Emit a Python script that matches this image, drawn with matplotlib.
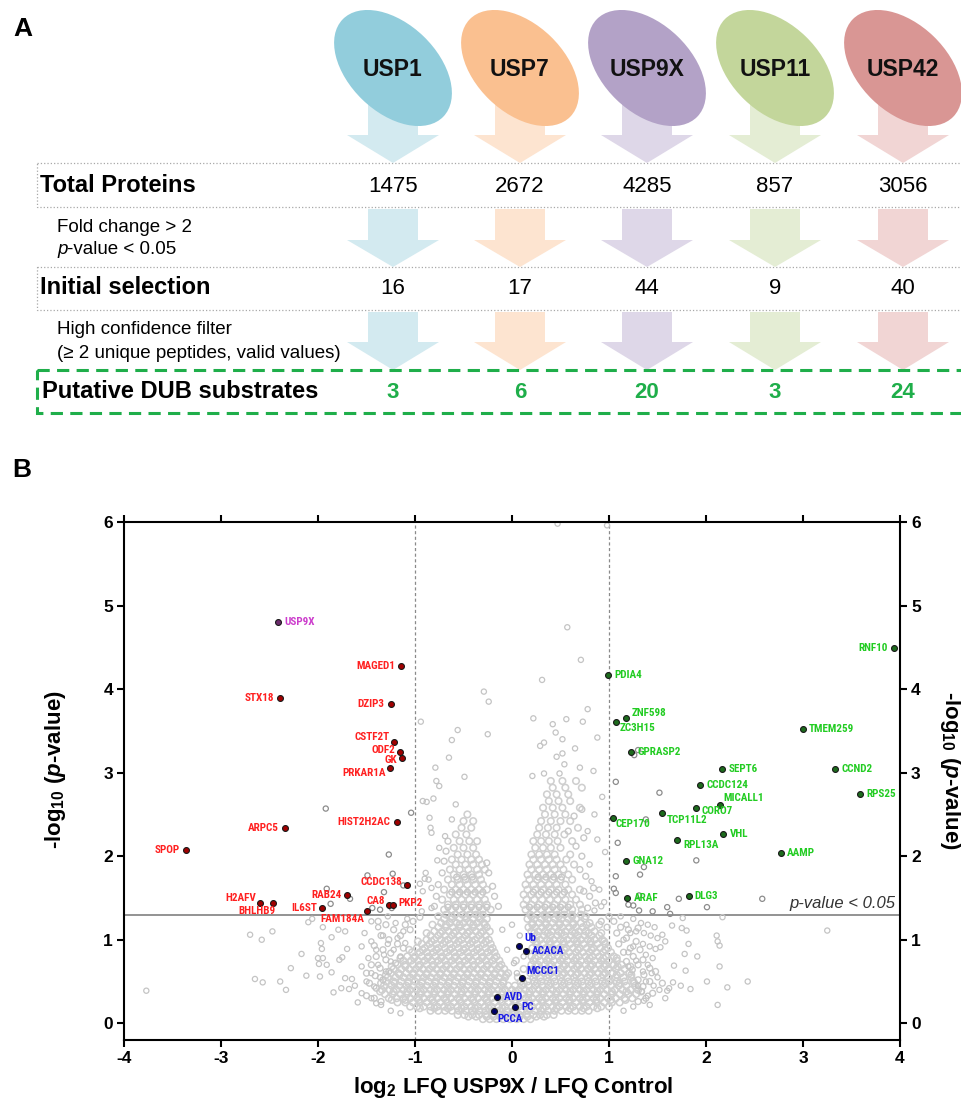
import math
import matplotlib
matplotlib.use('Agg')
import matplotlib.pyplot as plt
from matplotlib.patches import Ellipse, Polygon, Rectangle
from matplotlib import font_manager

plt.rcParams['font.family'] = ['Liberation Sans', 'DejaVu Sans']
plt.rcParams['axes.unicode_minus'] = False
plt.rcParams['mathtext.fontset'] = 'custom'
plt.rcParams['mathtext.rm'] = 'Liberation Sans:bold'
plt.rcParams['mathtext.it'] = 'Liberation Sans:italic:bold'
plt.rcParams['mathtext.bf'] = 'Liberation Sans:bold'

_names = {f.name for f in font_manager.fontManager.ttflist}
LABEL_FAMILY, LABEL_SIZE, LABEL_STRETCH = 'Liberation Sans', 7.2, 'normal'
for _cand, _size in [('Liberation Sans Narrow', 8), ('Arial Narrow', 8), ('Nimbus Sans Narrow', 8),
                     ('Roboto Condensed', 8), ('Open Sans Condensed', 7.6)]:
    if _cand in _names:
        LABEL_FAMILY, LABEL_SIZE = _cand, _size
        break
else:
    if any(f.name == 'DejaVu Sans' and 'ondensed' in f.fname for f in font_manager.fontManager.ttflist):
        LABEL_FAMILY, LABEL_SIZE, LABEL_STRETCH = 'DejaVu Sans', 7.3, 'condensed'

# ---------------- Panel A data ----------------
dubs = ['USP1', 'USP7', 'USP9X', 'USP11', 'USP42']
total_proteins = [1475, 2672, 4285, 857, 3056]
initial_selection = [16, 17, 44, 9, 40]
putative_substrates = [3, 6, 20, 3, 24]
dub_colors = ['#92cddc', '#fac090', '#b3a2c7', '#c3d69b', '#d99694']
arrow_colors = ['#d3eaf0', '#fde4d0', '#ded7e8', '#e4edd4', '#f1d5d4']
row_titles = ['Total Proteins', 'Initial selection', 'Putative DUB substrates']

# ---------------- Panel B data ----------------
red_genes = ['MAGED1', 'STX18', 'DZIP3', 'CSTF2T', 'ODF2', 'GK', 'PRKAR1A', 'HIST2H2AC',
             'ARPC5', 'SPOP', 'CCDC138', 'RAB24', 'H2AFV', 'BHLHB9', 'IL6ST', 'CA8', 'PKP2', 'FAM184A']
red_x = [-1.14, -2.39, -1.25, -1.22, -1.15, -1.13, -1.26, -1.19,
         -2.34, -3.36, -1.08, -1.70, -2.60, -2.46, -1.96, -1.27, -1.23, -1.49]
red_y = [4.28, 3.89, 3.82, 3.37, 3.25, 3.18, 3.06, 2.41,
         2.34, 2.08, 1.65, 1.54, 1.44, 1.44, 1.38, 1.41, 1.41, 1.35]

green_genes = ['RNF10', 'PDIA4', 'ZNF598', 'ZC3H15', 'TMEM259', 'GPRASP2', 'SEPT6', 'CCND2',
               'CCDC124', 'RPS25', 'MICALL1', 'CORO7', 'TCP11L2', 'CEP170', 'VHL', 'RPL13A',
               'AAMP', 'GNA12', 'ARAF', 'DLG3']
green_x = [3.94, 0.99, 1.18, 1.07, 3.00, 1.23, 2.17, 3.33,
           1.94, 3.59, 2.14, 1.90, 1.55, 1.04, 2.18, 1.70,
           2.77, 1.18, 1.19, 1.82]
green_y = [4.49, 4.17, 3.65, 3.61, 3.52, 3.25, 3.04, 3.04,
           2.85, 2.74, 2.61, 2.58, 2.52, 2.46, 2.26, 2.19,
           2.04, 1.94, 1.50, 1.52]

blue_genes = ['Ub', 'ACACA', 'MCCC1', 'AVD', 'PC', 'PCCA']
blue_x = [0.07, 0.14, 0.10, -0.15, 0.03, -0.19]
blue_y = [0.92, 0.86, 0.54, 0.32, 0.19, 0.15]

bait_gene = ['USP9X']
bait_x = [-2.41]
bait_y = [4.80]

# dense core of non-significant proteins (rows of constant -log10 p)
bg_core_y = [0.05, 0.10, 0.15, 0.20, 0.25, 0.30, 0.35, 0.40, 0.45, 0.50, 0.55, 0.60, 0.65,
             0.70, 0.75, 0.80, 0.85, 0.90, 0.95, 1.00, 1.05, 1.10, 1.15, 1.20, 1.25, 1.30]
bg_core_x = [
    [-0.30, -0.23, -0.16, -0.09, -0.02, 0.05, 0.12, 0.19],
    [-0.56, -0.49, -0.41, -0.34, -0.27, -0.20, -0.13, -0.06, 0.01, 0.08, 0.15, 0.22, 0.29, 0.36, 0.43],
    [-0.84, -0.76, -0.69, -0.62, -0.55, -0.48, -0.41, -0.34, -0.27, -0.20, -0.13, -0.06, 0.02, 0.09,
     0.16, 0.23, 0.30, 0.37, 0.44, 0.51, 0.58, 0.65, 0.72, 0.79],
    [-1.05, -0.98, -0.91, -0.84, -0.77, -0.70, -0.63, -0.56, -0.49, -0.42, -0.35, -0.28, -0.21, -0.14,
     -0.07, 0.00, 0.07, 0.14, 0.21, 0.28, 0.35, 0.42, 0.49, 0.56, 0.63, 0.70, 0.77, 0.84, 0.92, 1.00],
    [-1.18, -1.10, -1.02, -0.95, -0.88, -0.81, -0.74, -0.67, -0.60, -0.53, -0.46, -0.39, -0.32, -0.25,
     -0.18, -0.11, -0.04, 0.03, 0.10, 0.17, 0.24, 0.31, 0.38, 0.45, 0.52, 0.59, 0.66, 0.73, 0.80, 0.87,
     0.95, 1.03, 1.11],
    [-1.27, -1.19, -1.12, -1.05, -0.98, -0.91, -0.84, -0.77, -0.70, -0.63, -0.56, -0.49, -0.42, -0.35,
     -0.28, -0.21, -0.14, -0.07, 0.00, 0.07, 0.14, 0.21, 0.28, 0.35, 0.42, 0.49, 0.56, 0.63, 0.70, 0.77,
     0.84, 0.91, 0.99, 1.07, 1.16, 1.24],
    [-1.31, -1.23, -1.15, -1.08, -1.01, -0.94, -0.87, -0.80, -0.73, -0.66, -0.59, -0.52, -0.45, -0.38,
     -0.31, -0.24, -0.17, -0.10, -0.03, 0.04, 0.11, 0.18, 0.25, 0.32, 0.39, 0.46, 0.53, 0.60, 0.67, 0.74,
     0.81, 0.88, 0.95, 1.03, 1.11, 1.20, 1.28],
    [-1.34, -1.26, -1.19, -1.12, -1.05, -0.98, -0.91, -0.84, -0.77, -0.70, -0.63, -0.56, -0.49, -0.42,
     -0.35, -0.28, -0.21, -0.14, -0.07, 0.00, 0.07, 0.14, 0.21, 0.28, 0.35, 0.42, 0.49, 0.56, 0.63, 0.70,
     0.77, 0.84, 0.91, 0.98, 1.06, 1.14, 1.22, 1.30],
    [-1.32, -1.24, -1.16, -1.09, -1.02, -0.95, -0.88, -0.81, -0.74, -0.67, -0.60, -0.53, -0.46, -0.39,
     -0.32, -0.25, -0.18, -0.11, -0.04, 0.03, 0.10, 0.17, 0.24, 0.31, 0.38, 0.45, 0.52, 0.59, 0.66, 0.73,
     0.80, 0.87, 0.94, 1.02, 1.10, 1.18, 1.27],
    [-1.30, -1.22, -1.14, -1.07, -1.00, -0.93, -0.86, -0.79, -0.72, -0.65, -0.58, -0.51, -0.44, -0.37,
     -0.30, -0.23, -0.16, -0.09, 0.09, 0.16, 0.23, 0.30, 0.37, 0.44, 0.51, 0.58, 0.65, 0.72, 0.79, 0.86,
     0.93, 1.00, 1.08, 1.16, 1.25],
    [-1.28, -1.20, -1.12, -1.05, -0.98, -0.91, -0.84, -0.77, -0.70, -0.63, -0.56, -0.49, -0.42, -0.35,
     -0.28, -0.21, -0.14, -0.07, 0.06, 0.22, 0.29, 0.36, 0.43, 0.50, 0.57, 0.64, 0.71, 0.78, 0.85, 0.92,
     0.99, 1.07, 1.15, 1.23],
    [-1.25, -1.17, -1.09, -1.02, -0.95, -0.88, -0.81, -0.74, -0.67, -0.60, -0.53, -0.46, -0.39, -0.32,
     -0.25, -0.18, -0.11, -0.04, 0.19, 0.26, 0.33, 0.40, 0.47, 0.54, 0.61, 0.68, 0.75, 0.82, 0.89, 0.96,
     1.04, 1.12, 1.21],
    [-1.22, -1.14, -1.06, -0.99, -0.92, -0.85, -0.78, -0.71, -0.64, -0.57, -0.50, -0.43, -0.36, -0.29,
     -0.22, -0.15, -0.08, 0.12, 0.22, 0.29, 0.36, 0.43, 0.50, 0.57, 0.64, 0.71, 0.78, 0.85, 0.92, 0.99,
     1.07, 1.16],
    [-1.18, -1.10, -1.02, -0.95, -0.88, -0.81, -0.74, -0.67, -0.60, -0.53, -0.46, -0.39, -0.32, -0.25,
     -0.18, -0.11, 0.20, 0.27, 0.34, 0.41, 0.48, 0.55, 0.62, 0.69, 0.76, 0.83, 0.90, 0.97, 1.05, 1.13],
    [-1.12, -1.04, -0.97, -0.90, -0.83, -0.76, -0.69, -0.62, -0.55, -0.48, -0.41, -0.34, -0.27, -0.20,
     -0.13, 0.04, 0.22, 0.29, 0.36, 0.43, 0.50, 0.57, 0.64, 0.71, 0.78, 0.85, 0.92, 1.00, 1.08],
    [-1.08, -1.00, -0.93, -0.86, -0.79, -0.72, -0.65, -0.58, -0.51, -0.44, -0.37, -0.30, -0.23, -0.16,
     0.20, 0.27, 0.34, 0.41, 0.48, 0.55, 0.62, 0.69, 0.76, 0.83, 0.90, 0.97, 1.05],
    [-1.03, -0.95, -0.88, -0.81, -0.74, -0.67, -0.60, -0.53, -0.46, -0.39, -0.32, -0.25, -0.18, 0.24,
     0.31, 0.38, 0.45, 0.52, 0.59, 0.66, 0.73, 0.80, 0.87, 0.94, 1.02],
    [-0.98, -0.90, -0.83, -0.76, -0.69, -0.62, -0.55, -0.48, -0.41, -0.34, -0.27, -0.20, 0.21, 0.28,
     0.35, 0.42, 0.49, 0.56, 0.63, 0.70, 0.77, 0.84, 0.91, 0.99],
    [-0.93, -0.85, -0.78, -0.71, -0.64, -0.57, -0.50, -0.43, -0.36, -0.29, -0.22, 0.25, 0.32, 0.39,
     0.46, 0.53, 0.60, 0.67, 0.74, 0.81, 0.88, 0.96],
    [-0.88, -0.80, -0.73, -0.66, -0.59, -0.52, -0.45, -0.38, -0.31, -0.24, 0.22, 0.29, 0.36, 0.43,
     0.50, 0.57, 0.64, 0.71, 0.78, 0.85, 0.93],
    [-0.84, -0.76, -0.69, -0.62, -0.55, -0.48, -0.41, -0.34, -0.27, 0.26, 0.33, 0.40, 0.47, 0.54,
     0.61, 0.68, 0.75, 0.82, 0.90],
    [-0.80, -0.72, -0.65, -0.58, -0.51, -0.44, -0.37, -0.30, -0.23, 0.20, 0.27, 0.34, 0.41, 0.48,
     0.55, 0.62, 0.69, 0.76, 0.85],
    [-0.76, -0.68, -0.61, -0.54, -0.47, -0.40, -0.33, -0.26, 0.17, 0.24, 0.31, 0.38, 0.45, 0.52,
     0.59, 0.66, 0.73, 0.82],
    [-0.73, -0.64, -0.57, -0.50, -0.43, -0.36, -0.29, 0.21, 0.28, 0.35, 0.42, 0.49, 0.56, 0.63, 0.71, 0.80],
    [-0.70, -0.62, -0.54, -0.47, -0.40, -0.33, -0.26, 0.16, 0.23, 0.30, 0.37, 0.44, 0.51, 0.58, 0.66, 0.75],
    [-0.68, -0.59, -0.51, -0.44, -0.37, -0.30, 0.19, 0.26, 0.33, 0.40, 0.47, 0.54, 0.62, 0.71],
]

# interleaved core rows (between the rows above)
bg_core2_y = [0.08, 0.18, 0.28, 0.38, 0.48, 0.58, 0.68, 0.78, 0.88, 0.98, 1.08, 1.18, 1.28]
bg_core2_x = [
    [-0.45, -0.37, -0.26, -0.19, -0.12, -0.05, 0.08, 0.16, 0.25, 0.33],
    [-0.95, -0.80, -0.66, -0.52, -0.38, -0.24, -0.10, 0.04, 0.18, 0.32, 0.46, 0.60, 0.74, 0.88],
    [-1.24, -1.10, -0.96, -0.82, -0.68, -0.54, -0.40, -0.26, -0.12, 0.03, 0.17, 0.31, 0.45, 0.59,
     0.73, 0.87, 1.02, 1.17],
    [-1.36, -1.22, -1.08, -0.94, -0.80, -0.66, -0.52, -0.38, -0.24, -0.10, 0.04, 0.18, 0.32, 0.46,
     0.60, 0.74, 0.88, 1.03, 1.18, 1.33],
    [-1.35, -1.21, -1.07, -0.93, -0.79, -0.65, -0.51, -0.37, -0.23, -0.09, 0.12, 0.26, 0.40, 0.54,
     0.68, 0.82, 0.96, 1.11, 1.26],
    [-1.30, -1.16, -1.02, -0.88, -0.74, -0.60, -0.46, -0.32, -0.18, -0.06, 0.24, 0.38, 0.52, 0.66,
     0.80, 0.94, 1.08, 1.23],
    [-1.24, -1.10, -0.96, -0.82, -0.68, -0.54, -0.40, -0.26, -0.13, 0.25, 0.39, 0.53, 0.67, 0.81,
     0.95, 1.09, 1.22],
    [-1.15, -1.01, -0.87, -0.73, -0.59, -0.45, -0.31, -0.18, 0.24, 0.38, 0.52, 0.66, 0.80, 0.94, 1.08],
    [-1.06, -0.92, -0.78, -0.64, -0.50, -0.36, -0.22, 0.26, 0.40, 0.54, 0.68, 0.82, 0.96],
    [-0.97, -0.83, -0.69, -0.55, -0.41, -0.27, 0.25, 0.39, 0.53, 0.67, 0.81, 0.95],
    [-0.88, -0.74, -0.60, -0.46, -0.32, 0.23, 0.37, 0.51, 0.65, 0.79, 0.92],
    [-0.82, -0.68, -0.54, -0.40, -0.28, 0.21, 0.35, 0.49, 0.63, 0.77, 0.90],
    [-0.76, -0.62, -0.48, -0.34, 0.20, 0.34, 0.48, 0.62, 0.76],
]

# arms of the volcano (above the core)
arm_y = [1.36, 1.42, 1.48, 1.54, 1.60, 1.66, 1.72, 1.78, 1.84, 1.90, 1.96, 2.02, 2.10, 2.18,
         2.26, 2.34, 2.42, 2.50, 2.58, 2.66, 2.74, 2.82, 2.90]
arm_x = [
    [-0.70, -0.62, -0.54, -0.46, -0.38, -0.30, -0.22, 0.14, 0.22, 0.30, 0.38, 0.46, 0.54, 0.62, 0.72],
    [-0.66, -0.58, -0.50, -0.42, -0.34, -0.26, 0.12, 0.20, 0.28, 0.36, 0.44, 0.52, 0.60, 0.70],
    [-0.72, -0.60, -0.52, -0.44, -0.36, -0.28, 0.15, 0.23, 0.31, 0.39, 0.47, 0.55, 0.66],
    [-0.64, -0.56, -0.48, -0.40, -0.32, 0.12, 0.20, 0.28, 0.36, 0.44, 0.52, 0.62],
    [-0.70, -0.58, -0.50, -0.42, -0.34, -0.26, 0.16, 0.24, 0.32, 0.40, 0.48, 0.58, 0.70],
    [-0.62, -0.54, -0.46, -0.38, -0.30, 0.14, 0.22, 0.30, 0.38, 0.46, 0.55],
    [-0.66, -0.56, -0.48, -0.40, -0.32, 0.18, 0.26, 0.34, 0.42, 0.50, 0.62],
    [-0.60, -0.50, -0.42, -0.34, 0.16, 0.24, 0.32, 0.40, 0.48, 0.58],
    [-0.64, -0.54, -0.45, -0.36, -0.28, 0.20, 0.28, 0.36, 0.44, 0.53],
    [-0.58, -0.48, -0.40, -0.31, 0.18, 0.26, 0.34, 0.42, 0.50, 0.64],
    [-0.62, -0.52, -0.42, -0.34, 0.22, 0.30, 0.38, 0.46, 0.56],
    [-0.56, -0.46, -0.37, 0.20, 0.28, 0.36, 0.44, 0.60],
    [-0.60, -0.50, -0.40, 0.24, 0.32, 0.40, 0.50],
    [-0.54, -0.44, -0.36, 0.22, 0.30, 0.38, 0.47, 0.62],
    [-0.58, -0.47, 0.26, 0.35, 0.44, 0.54],
    [-0.52, -0.42, 0.28, 0.37, 0.46, 0.68],
    [-0.50, -0.40, 0.30, 0.40, 0.50, 0.60],
    [-0.46, 0.34, 0.44, 0.55],
    [0.32, 0.42, 0.52, 0.70],
    [0.38, 0.48, 0.60],
    [0.36, 0.46, 0.58],
    [0.42, 0.55, 0.72],
    [0.40, 0.52, 0.66],
]

# moderately dense fringe around the core and arms
edge_x = [-1.38, -1.30, -1.22, -1.35, -1.27, -1.18, -1.42, -1.33, -1.25, -1.15, -1.40, -1.30,
          -1.20, -1.45, -1.36, -1.27, -1.50, -1.41, -1.33, -1.47, -1.40, -1.50, -1.42, -1.35,
          -1.10, -1.02, -0.95, -1.12, -1.05,
          1.05, 1.12, 1.20, 1.30, 1.08, 1.18, 1.28, 1.10, 1.22, 1.32, 1.15, 1.25, 1.35, 1.18,
          1.30, 1.42, 1.24, 1.36, 1.30, 1.42, 1.35, 1.45, 1.38, 1.30, 1.00, 0.92, 0.98, 1.48, 1.55,
          0.78, 0.86, 0.80, 0.74, 0.84, 0.76, 0.70, 0.72, 0.66, 0.74, 0.58, 0.64, 0.72,
          -0.80, -0.78, -0.76, -0.72, -0.70, -0.68, -0.66, -0.14, -0.18, -0.20, -0.24, -0.26,
          0.18, 0.26, 0.34, 0.42, 0.50, 0.58, 0.22, 0.30, 0.38, 0.46, 0.54, 0.27, 0.35, 0.43, 0.51,
          -0.66, -0.58, -0.50, -0.42, -0.34, -0.26, -0.62, -0.54, -0.46, -0.38, -0.30, -0.57, -0.49, -0.41]
edge_y = [1.22, 1.18, 1.12, 1.05, 1.00, 0.95, 0.93, 0.88, 0.84, 1.05, 0.80, 0.76,
          0.72, 0.70, 0.66, 0.62, 0.60, 0.57, 0.52, 0.48, 0.42, 0.33, 0.30, 0.26,
          1.18, 1.22, 1.27, 0.90, 1.12,
          1.22, 1.15, 1.12, 1.14, 1.08, 1.02, 0.98, 0.95, 0.90, 0.88, 0.85, 0.80, 0.76, 0.74,
          0.70, 0.66, 0.64, 0.58, 0.52, 0.50, 0.44, 0.36, 0.30, 0.26, 1.28, 1.22, 1.15, 0.62, 0.48,
          1.38, 1.44, 1.52, 1.58, 1.62, 1.76, 1.84, 2.00, 2.12, 2.22, 2.30, 2.48, 2.56,
          1.40, 1.52, 1.66, 1.80, 1.94, 2.06, 2.18, 1.40, 1.52, 1.64, 1.80, 1.92,
          1.39, 1.39, 1.39, 1.39, 1.39, 1.39, 1.57, 1.57, 1.57, 1.57, 1.57, 1.75, 1.75, 1.75, 1.75,
          1.39, 1.39, 1.39, 1.39, 1.39, 1.39, 1.57, 1.57, 1.57, 1.57, 1.57, 1.75, 1.75, 1.75]

# scattered non-significant proteins
bg_x = [0.47, 0.98, 0.57, 0.71, 0.31, -0.29, -0.24, -0.94, -0.56, -0.62, -0.65, -0.79, -0.25,
        0.78, 0.22, 0.42, 0.56, 0.73, 0.45, 0.52, 0.88, 0.33, 0.29, 0.65, 0.52, 0.46, 0.54, 0.70,
        0.84, 0.33, 0.49, 0.21, -0.49, 0.93, -0.92, -0.88, -0.81, -0.85, -0.84, -0.78, -0.95, -0.90,
        -0.83, -0.92, -0.93, -0.83, -0.75, -0.58, -0.62, -0.83, -0.69, -0.75, -0.89, -0.86, -0.77,
        0.88, 0.80, 0.90, 0.95, 0.85, 0.85, 0.92, 0.78, 0.96, 0.82,
        0.02, -0.05, 0.08, 0.00, 0.12, -0.10, 0.05,
        -3.77, -2.70, -2.58, -2.47, -2.65, -2.57, -2.39, -2.33, -2.28, -2.17, -2.12, -2.10, -2.06,
        -1.97, -1.96, -2.00, -1.95, -1.99, -1.98, -1.91, -1.86, -1.86, -1.95, -1.84, -1.78, -1.75,
        -1.70, -1.79, -1.72, -1.76, -1.68, -1.59, -1.72, -1.65, -1.62, -1.40,
        -1.45, -1.38, -1.52, -1.33, -1.45, -1.28, -1.55, -1.40, -1.32, -1.48, -1.25, -1.38, -1.55,
        -1.30, -1.45, -1.36, -1.50, -1.42, -1.55, -1.45, -1.35, -1.25, -1.15, -1.20, -1.12, -1.18,
        -1.22, -1.10, -1.15, -1.08, -1.28,
        3.25, 2.11, 2.12, 2.14, 1.91, 2.14, 2.43, 2.01, 2.22, 2.12, 1.84, 1.74, 1.66, 1.60, 1.79,
        1.67, 1.78, 1.82, 1.75, 1.80, 1.65, 1.76, 2.17,
        1.33, 1.40, 1.47, 1.36, 1.43, 1.50, 1.55, 1.58, 1.35, 1.42, 1.48, 1.53, 1.38, 1.45, 1.40,
        1.35, 1.44, 1.50, 1.38, 1.46, 1.52, 1.34, 1.40, 1.36, 1.42, 1.58, 1.62, 1.25, 1.18, 1.22,
        1.15, 1.25, 1.20, 1.28, 1.20, 1.30, 1.25, 1.15, 1.28, 1.12]
bg_y = [5.98, 5.96, 4.74, 4.35, 4.11, 3.97, 3.85, 3.61, 3.51, 3.39, 3.18, 3.06, 3.46,
        3.76, 3.65, 3.58, 3.64, 3.61, 3.48, 3.40, 3.42, 3.36, 3.32, 3.29, 3.23, 3.19, 3.10, 3.06,
        3.02, 2.99, 2.99, 2.96, 2.95, 2.71, 2.66, 2.65, 2.69, 2.46, 2.34, 2.90, 1.67, 1.73,
        1.62, 1.58, 1.34, 1.38, 2.84, 2.62, 2.44, 2.28, 2.24, 2.10, 1.80, 1.72, 1.95,
        2.20, 1.90, 1.60, 1.45, 2.50, 1.35, 1.40, 2.30, 2.05, 1.70,
        0.72, 0.88, 1.05, 1.18, 0.80, 1.12, 0.60,
        0.39, 1.06, 1.00, 1.10, 0.53, 0.49, 0.50, 0.40, 0.66, 0.83, 0.57, 1.21, 1.25,
        0.96, 0.89, 0.78, 0.78, 0.71, 0.56, 0.70, 0.61, 1.03, 1.15, 0.37, 0.76, 0.79,
        0.89, 1.12, 1.10, 0.42, 0.41, 0.25, 0.54, 0.53, 0.45, 0.24,
        1.22, 1.15, 1.08, 1.05, 0.98, 0.95, 0.92, 0.88, 0.82, 0.78, 0.74, 0.70, 0.68,
        0.62, 0.60, 0.55, 0.50, 0.44, 0.36, 0.30, 0.22, 0.15, 0.12, 1.20, 1.10, 1.02,
        0.88, 0.96, 0.80, 1.25, 1.28,
        1.11, 1.05, 0.98, 0.93, 0.80, 0.68, 0.50, 0.50, 0.43, 0.22, 0.41, 0.45, 0.49, 0.39, 0.63,
        0.69, 0.83, 0.95, 1.14, 1.11, 1.17, 1.26, 1.27,
        1.20, 1.18, 1.15, 1.08, 1.05, 1.02, 1.06, 0.98, 0.95, 0.92, 0.89, 0.91, 0.82, 0.78, 0.70,
        0.62, 0.60, 0.55, 0.50, 0.45, 0.40, 0.38, 0.33, 0.27, 0.22, 0.30, 0.42, 1.25, 1.18, 1.08,
        1.00, 0.92, 0.85, 0.75, 0.68, 0.45, 0.20, 0.15, 1.10, 1.28]

# significant (p < 0.05) but filtered-out proteins: darker open circles
sig_x = [-1.92, -1.04, -1.27, -1.23, -1.49, -1.32, -1.91, -1.67, -1.87, -1.12, -1.44, -1.36, -1.24,
         1.30, 1.26, 1.07, 1.09, 1.90, 1.52, 1.38, 1.36, 1.32, 1.07, 1.05, 1.07, 1.31, 1.72, 2.58,
         1.20, 1.25, 1.31, 1.45, 1.60, 2.01, 1.63]
sig_y = [2.57, 2.52, 2.02, 1.79, 1.77, 1.57, 1.61, 1.49, 1.43, 1.65, 1.38, 1.36, 1.38,
         3.27, 3.21, 2.89, 2.16, 1.95, 2.76, 2.44, 1.87, 1.78, 1.76, 1.61, 1.56, 1.53, 1.49, 1.49,
         1.42, 1.41, 1.35, 1.34, 1.39, 1.39, 1.31]

pval_threshold = 0.05
fc_threshold = 1

# ---------------- Figure ----------------
W, H = 962, 1106
fig = plt.figure(figsize=(W / 100, H / 100), dpi=100)

axA = fig.add_axes([0, 0, 1, 1])
axA.set_xlim(0, W)
axA.set_ylim(H, 0)
axA.axis('off')

col_x = [393, 520, 647, 775, 903]

def arrow(cx, top, head, tip, color, z=1):
    pts = [(cx - 25, top), (cx + 25, top), (cx + 25, head), (cx + 46, head),
           (cx, tip), (cx - 46, head), (cx - 25, head)]
    axA.add_patch(Polygon(pts, closed=True, fc=color, ec='none', zorder=z))

for i, name in enumerate(dubs):
    cx = col_x[i]
    arrow(cx, 95, 135, 163, arrow_colors[i], 1)
    arrow(cx, 209, 240, 267, arrow_colors[i], 1)
    arrow(cx, 312, 342, 370, arrow_colors[i], 1)
    axA.add_patch(Ellipse((cx, 68), width=88, height=140, angle=-46,
                          fc=dub_colors[i], ec='none', zorder=2))
    axA.text(cx, 69, name, ha='center', va='center', fontsize=16.5,
             fontweight='bold', color='#111111', zorder=3)
    axA.text(cx, 186, str(total_proteins[i]), ha='center', va='center', fontsize=16, zorder=3)
    axA.text(cx, 288, str(initial_selection[i]), ha='center', va='center', fontsize=16, zorder=3)
    axA.text(cx, 392, str(putative_substrates[i]), ha='center', va='center', fontsize=16,
             fontweight='bold', color='#1fae4a', zorder=3)

# row boxes
axA.add_patch(Rectangle((37, 163), 960, 44, fill=False, ls=':', ec='#a8a8a8', lw=0.9, zorder=0))
axA.add_patch(Rectangle((37, 267), 960, 43, fill=False, ls=':', ec='#a8a8a8', lw=0.9, zorder=0))
axA.add_patch(Rectangle((37, 370), 960, 43, fill=False, ls=(0, (4, 2.4)), ec='#1fae4a', lw=2.2, zorder=4))

axA.text(40, 186, row_titles[0], ha='left', va='center', fontsize=17, fontweight='bold')
axA.text(40, 288, row_titles[1], ha='left', va='center', fontsize=17, fontweight='bold')
axA.text(42, 392, row_titles[2], ha='left', va='center', fontsize=17, fontweight='bold')
axA.text(57, 228, 'Fold change > 2', ha='left', va='center', fontsize=13.5)
axA.text(57, 250, 'p', ha='left', va='center', fontsize=13.5, style='italic')
axA.text(67.5, 250, '-value < 0.05', ha='left', va='center', fontsize=13.5)
axA.text(57, 330, 'High confidence filter', ha='left', va='center', fontsize=13.5)
axA.text(57, 353, '(\u2265 2 unique peptides, valid values)', ha='left', va='center', fontsize=13.5)

axA.text(23, 29, 'A', ha='center', va='center', fontsize=19, fontweight='bold')
axA.text(22, 470, 'B', ha='center', va='center', fontsize=19, fontweight='bold')

# ---------------- Volcano plot ----------------
L, R, T, B = 124, 900, 522, 1040
ax = fig.add_axes([L / W, 1 - B / H, (R - L) / W, (B - T) / H])
ax.set_xlim(-4, 4)
ax.set_ylim(-0.2, 6)

core_x, core_y = [], []
for rows_y, rows_x in ((bg_core_y, bg_core_x), (bg_core2_y, bg_core2_x), (arm_y, arm_x)):
    for yv, xs in zip(rows_y, rows_x):
        core_x.extend(xs)
        core_y.extend([yv] * len(xs))

ax.scatter(core_x, core_y, s=22, facecolors='none', edgecolors='#cfcfcf', linewidths=1.15, zorder=1)
ax.scatter(edge_x, edge_y, s=18, facecolors='none', edgecolors='#c8c8c8', linewidths=1.0, zorder=1)
ax.scatter(bg_x, bg_y, s=14, facecolors='none', edgecolors='#c4c4c4', linewidths=0.9, zorder=1)
ax.scatter(sig_x, sig_y, s=14, facecolors='none', edgecolors='#8c8c8c', linewidths=0.9, zorder=2)

thr = -math.log10(pval_threshold)
ax.axhline(thr, color='#808080', lw=1.2, zorder=0.5)
for xv in (-fc_threshold, fc_threshold):
    ax.axvline(xv, color='#8a8a8a', lw=0.9, ls=(0, (2.5, 2)), zorder=0.5)

dot = dict(s=18, linewidths=0.8, edgecolors='#1a1a1a', zorder=4)
ax.scatter(red_x, red_y, c='#a00000', **dot)
ax.scatter(green_x, green_y, c='#1d6b1d', **dot)
ax.scatter(blue_x, blue_y, c='#00006a', **dot)
ax.scatter(bait_x, bait_y, c='#6b2b6b', **dot)

# label offsets in pixels (dx, dy, ha)
offsets = {
    'MAGED1': (-6, 0, 'right'), 'STX18': (-6, 0, 'right'), 'DZIP3': (-6, 0, 'right'),
    'CSTF2T': (-4, 5, 'right'), 'ODF2': (-5, 2, 'right'), 'GK': (-5, -2, 'right'),
    'PRKAR1A': (-4, -5, 'right'), 'HIST2H2AC': (-6, 0, 'right'), 'ARPC5': (-6, 0, 'right'),
    'SPOP': (-6, 0, 'right'), 'CCDC138': (-5, 3, 'right'), 'RAB24': (-5, 0, 'right'),
    'H2AFV': (-4, 5, 'right'), 'BHLHB9': (2, -8, 'right'), 'IL6ST': (-5, 0, 'right'),
    'CA8': (-4, 4, 'right'), 'PKP2': (6, 2, 'left'), 'FAM184A': (-3, -9, 'right'),
    'RNF10': (-6, 0, 'right'), 'ZNF598': (5, 5, 'left'), 'ZC3H15': (4, -6, 'left'),
    'MICALL1': (4, 7, 'left'), 'CORO7': (5, -3, 'left'), 'TCP11L2': (4, -7, 'left'),
    'CEP170': (3, -6, 'left'), 'RPL13A': (6, -5, 'left'),
    'Ub': (6, 8, 'left'), 'MCCC1': (5, 7, 'left'), 'PCCA': (4, -8, 'left'),
}

def label(names, xs, ys, color, default_ha):
    for n, xv, yv in zip(names, xs, ys):
        dx, dy, ha = offsets.get(n, (6 if default_ha == 'left' else -6, 0, default_ha))
        ax.annotate(n, (xv, yv), xytext=(dx, dy), textcoords='offset pixels',
                    ha=ha, va='center', fontsize=LABEL_SIZE, fontweight='bold', color=color,
                    family=[LABEL_FAMILY, 'Liberation Sans'], fontstretch=LABEL_STRETCH, zorder=5)

label(red_genes, red_x, red_y, '#ff2020', 'right')
label(green_genes, green_x, green_y, '#22cc22', 'left')
label(blue_genes, blue_x, blue_y, '#1a1ae6', 'left')
label(bait_gene, bait_x, bait_y, '#cc3dcc', 'left')

ax.text(3.95, 1.43, 'p-value < 0.05', ha='right', va='center', fontsize=12,
        style='italic', color='#333333', zorder=5)

ax.set_xticks(range(-4, 5))
ax.set_yticks(range(0, 7))
ax.tick_params(axis='both', direction='out', length=5, width=1.5, labelsize=12.5,
               top=True, right=True, labelright=True, labeltop=False, pad=3)
for t in ax.xaxis.get_major_ticks() + ax.yaxis.get_major_ticks():
    t.label1.set_fontweight('bold')
    t.label2.set_fontweight('bold')
for s in ax.spines.values():
    s.set_linewidth(1.5)

fig.text(513 / W, 1 - 1088 / H, r'log$_{2}$ LFQ USP9X / LFQ Control',
         ha='center', va='center', fontsize=16, fontweight='bold')
fig.text(55 / W, 1 - 770 / H, r'-log$_{10}$ ($\mathit{p}$-value)', rotation=90,
         ha='center', va='center', fontsize=16, fontweight='bold')
fig.text(951 / W, 1 - 770 / H, r'-log$_{10}$ ($\mathit{p}$-value)', rotation=270,
         ha='center', va='center', fontsize=16, fontweight='bold')

fig.savefig('out.png', dpi=100)
